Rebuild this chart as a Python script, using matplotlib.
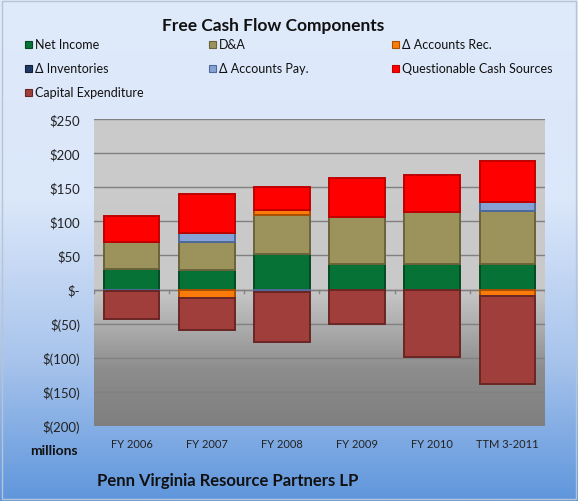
import numpy as np
import matplotlib
matplotlib.use("Agg")
import matplotlib.pyplot as plt
from matplotlib.colors import LinearSegmentedColormap
from matplotlib.patches import Rectangle

plt.rcParams['font.family'] = ['Lato', 'DejaVu Sans']

categories = ["FY 2006", "FY 2007", "FY 2008", "FY 2009", "FY 2010", "TTM 3-2011"]
net_income = [30, 28, 52, 37, 37, 37]
dep_amort = [39, 42, 58, 70, 76, 78]
d_acc_rec = [0, -12, 6, 0, 0, -10]
d_inventories = [0, 0, 0, 0, 0, 0]
d_acc_pay = [-2, 13, -4, 0, 0, 13]
questionable = [39, 57, 34, 56, 55, 60]
capex = [-41, -48, -73, -50, -99, -129]

series = [
    ("Net Income", net_income, "#067235", "#034a22"),
    ("D&A", dep_amort, "#9c925c", "#6b633b"),
    ("\u0394 Accounts Rec.", d_acc_rec, "#fb7b0a", "#a84f04"),
    ("\u0394 Inventories", d_inventories, "#1f3864", "#111f3a"),
    ("\u0394 Accounts Pay.", d_acc_pay, "#86a2d4", "#4f6a99"),
    ("Questionable Cash Sources", questionable, "#ff0000", "#c00000"),
    ("Capital Expenditure", capex, "#a03e3b", "#6a2624"),
]
yticks = [250, 200, 150, 100, 50, 0, -50, -100, -150, -200]
ytick_labels = ["$250", "$200", "$150", "$100", "$50", "$-", "$(50)", "$(100)", "$(150)", "$(200)"]

W, H = 578, 502
fig = plt.figure(figsize=(W / 100, H / 100), dpi=100)

# figure background gradient
bg = fig.add_axes([0, 0, 1, 1], zorder=-10)
bg_cmap = LinearSegmentedColormap.from_list(
    "bg", [(0, "#dfeafa"), (0.4, "#dbe7fa"), (0.72, "#a8c4ec"), (1, "#5f96dc")])
bg.imshow(np.linspace(0, 1, 256).reshape(-1, 1), cmap=bg_cmap, aspect="auto",
          extent=[0, 1, 0, 1], origin="upper")
bg.add_patch(Rectangle((0.004, 0.004), 0.992, 0.992, fill=False, edgecolor="#b8c4d4", lw=1))
bg.set_xlim(0, 1)
bg.set_ylim(0, 1)
bg.axis("off")

ax = fig.add_axes([94 / W, 1 - 427 / H, (545 - 94) / W, (427 - 120) / H])
x = np.arange(len(categories))

# plot area gradient
pa_cmap = LinearSegmentedColormap.from_list(
    "pa", [(0, "#cbcbcb"), (0.55, "#c9c9c9"), (0.82, "#8c8c8c"), (1, "#7f7f7f")])
ax.imshow(np.linspace(0, 1, 256).reshape(-1, 1), cmap=pa_cmap, aspect="auto",
          extent=[-0.5, len(categories) - 0.5, -200, 250], origin="upper", zorder=0)

for yv in yticks[:-1]:
    ax.axhline(yv, color="#808080", lw=1, zorder=1)

pos_bottom = np.zeros(len(categories))
neg_bottom = np.zeros(len(categories))
for name, vals, col, edge in series:
    vals = np.array(vals, dtype=float)
    bottom = np.where(vals >= 0, pos_bottom, neg_bottom)
    ax.bar(x, vals, width=0.74, bottom=bottom, color=col, edgecolor=edge,
           linewidth=1.4, zorder=3)
    pos_bottom += np.where(vals > 0, vals, 0)
    neg_bottom += np.where(vals < 0, vals, 0)

ax.axhline(0, color="#808080", lw=1, zorder=2)
for b in np.arange(-0.5, len(categories) + 0.5, 1):
    ax.plot([b, b], [0, -5], color="#808080", lw=1, zorder=2)

ax.set_xlim(-0.5, len(categories) - 0.5)
ax.set_ylim(-200, 250)
ax.set_yticks(yticks)
ax.set_yticklabels(ytick_labels, fontsize=9.5, color="#222222")
ax.set_xticks(x)
ax.set_xticklabels(categories, fontsize=8, color="#222222")
ax.tick_params(axis="x", length=0, pad=9)
ax.tick_params(axis="y", length=0, pad=10)
for s in ax.spines.values():
    s.set_visible(False)

fig.text(273 / W, 1 - 26 / H, "Free Cash Flow Components", ha="center", va="center",
         fontsize=12.5, fontweight="bold", color="#111111")

# legend: three columns, filled row by row
col_x = [25, 209, 392]
row_y = [45, 69, 93]
for i, (name, vals, col, edge) in enumerate(series):
    cx = col_x[i % 3]
    cy = row_y[i // 3]
    fig.patches.append(Rectangle((cx / W, 1 - (cy + 3.5) / H), 7 / W, 7 / H,
                                 facecolor=col, edgecolor=edge, lw=0.8,
                                 transform=fig.transFigure, figure=fig))
    fig.text((cx + 10) / W, 1 - cy / H, name, ha="left", va="center",
             fontsize=9, color="#111111")

fig.text(30 / W, 1 - 451 / H, "millions", ha="left", va="center", fontsize=10,
         fontweight="bold", color="#111111")
fig.text(97 / W, 1 - 481 / H, "Penn Virginia Resource Partners LP", ha="left", va="center",
         fontsize=12, fontweight="bold", color="#111111")

fig.savefig("out.png", dpi=100)
